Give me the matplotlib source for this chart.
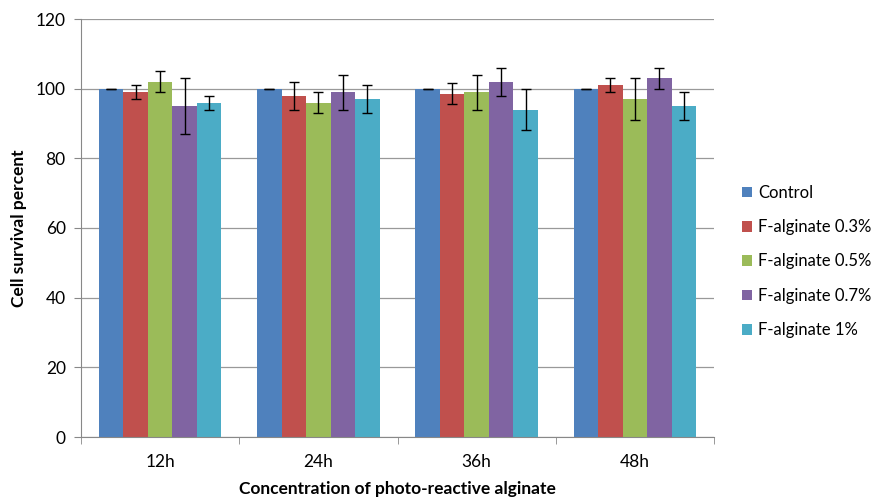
import numpy as np
import matplotlib.pyplot as plt

# ------------------------------- data ------------------------------- #
times = ['12h', '24h', '36h', '48h']
series = ['Control', 'F-alginate 0.3%', 'F-alginate 0.5%',
          'F-alginate 0.7%', 'F-alginate 1%']
control = [100, 100, 100, 100]
alg03 = [99, 98, 98.5, 101]
alg05 = [102, 96, 99, 97]
alg07 = [95, 99, 102, 103]
alg1 = [96, 97, 94, 95]
err_control = [0, 0, 0, 0]
err03 = [2, 4, 3, 2]
err05 = [3, 3, 5, 6]
err07 = [8, 5, 4, 3]
err1 = [2, 4, 6, 4]

values = [control, alg03, alg05, alg07, alg1]
errors = [err_control, err03, err05, err07, err1]
colors = ['#4F81BD', '#C0504D', '#9BBB59', '#8064A2', '#4BACC6']

plt.rcParams['font.family'] = ['Lato', 'DejaVu Sans']

fig = plt.figure(figsize=(8.72, 4.98), dpi=100)
ax = fig.add_axes([81/872, 61/498, 633/872, 418/498])

x = np.arange(len(times))
w = 0.155
for i, (vals, errs) in enumerate(zip(values, errors)):
    pos = x + (i - 2) * w
    ax.bar(pos, vals, width=w, color=colors[i], label=series[i], zorder=2)
    ax.errorbar(pos, vals, yerr=errs, fmt='none', ecolor='black',
                elinewidth=1.0, capsize=3.5, capthick=1.0, zorder=3)

ax.set_ylim(0, 120)
ax.set_yticks(np.arange(0, 121, 20))
ax.set_xlim(-0.5, len(times) - 0.5)
ax.set_xticks(x)
ax.set_xticklabels(times)
ax.set_xticks(np.arange(-0.5, len(times)), minor=True)
ax.tick_params(axis='x', which='major', length=0, labelsize=12.5, pad=12)
ax.tick_params(axis='x', which='minor', length=5, color='#888888')
ax.tick_params(axis='y', length=5, color='#888888', labelsize=12.5, pad=6)
ax.yaxis.grid(True, color='#999999', linewidth=0.9, zorder=0)
ax.set_axisbelow(True)
for s in ['top', 'right']:
    ax.spines[s].set_visible(False)
for s in ['left', 'bottom']:
    ax.spines[s].set_color('#888888')

ax.set_ylabel('Cell survival percent', fontsize=12.5, fontweight='bold', labelpad=6)
ax.set_xlabel('Concentration of photo-reactive alginate', fontsize=12.5,
              fontweight='bold', labelpad=8)

ax.legend(loc='center left', bbox_to_anchor=(1.02, 0.42), frameon=False,
          fontsize=12, handlelength=0.6, handleheight=0.6, handletextpad=0.4,
          labelspacing=1.1)

plt.savefig('out.png', dpi=100)
